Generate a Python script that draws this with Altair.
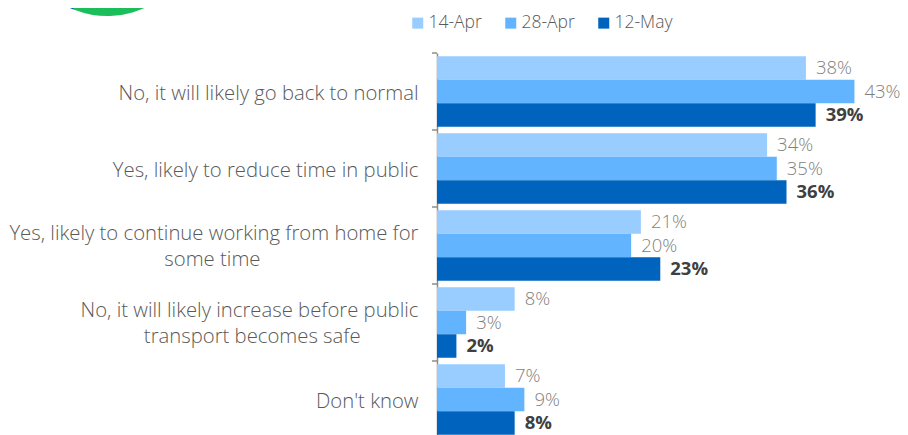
import json
import altair as alt
import pandas as pd

# ---- data -------------------------------------------------------------
categories = [
    "No, it will likely go back to normal",
    "Yes, likely to reduce time in public",
    "Yes, likely to continue working from home for some time",
    "No, it will likely increase before public transport becomes safe",
    "Don't know",
]
# wrapped axis-label lines (the short second lines are padded so that they
# sit centred under the first line, as in the reference)
NB = "\u00a0"
END = "\u200b"
label_lines = [
    ["No, it will likely go back to normal"],
    ["Yes, likely to reduce time in public"],
    ["Yes, likely to continue working from home for", "some time" + NB * 30 + END],
    ["No, it will likely increase before public", "transport becomes safe" + NB * 11 + END],
    ["Don't know"],
]
series = ["14-Apr", "28-Apr", "12-May"]
apr14 = [38, 34, 21, 8, 7]
apr28 = [43, 35, 20, 3, 9]
may12 = [39, 36, 23, 2, 8]
bar_values = [apr14, apr28, may12]

pie_labels = ["Yes", "No"]
pie_values = [56, 44]

# ---- styling ------------------------------------------------------------
bar_colors = ["#99CCFF", "#63B4FF", "#0064BE"]
pie_colors = ["#1BBE5A", "#0064BE"]
FONT = "Open Sans"

rows = []
for s, vals in zip(series, bar_values):
    for c, v in zip(categories, vals):
        rows.append({"Category": c, "Series": s, "Value": v, "Label": f"{v}%"})
df = pd.DataFrame(rows)

expr = "".join(
    f"datum.label === {json.dumps(c, ensure_ascii=False)} ? {json.dumps(l, ensure_ascii=False)} : "
    for c, l in zip(categories, label_lines)
) + "datum.label"

y_axis = alt.Axis(
    title=None, ticks=False, domain=True, domainColor="#8c8c8c", domainWidth=1.5,
    labelExpr=expr, labelFont=FONT, labelFontSize=20.3, labelFontWeight=300,
    labelColor="#595959", labelPadding=19, labelLimit=600, labelLineHeight=26,
    labelAlign="right",
    labelOffset={"condition": {"test": "length(datum.value) > 40", "value": -12},
                 "value": 2},
)
y_scale = alt.Scale(paddingInner=0, paddingOuter=0)


def make_y(**kw):
    return alt.Y("Category:N", sort=categories, scale=y_scale, axis=y_axis, **kw)


x_enc = alt.X("Value:Q", scale=alt.Scale(domain=[0, 48], range=[0, 466]), axis=None)
yoff = alt.YOffset("Series:N", sort=series,
                   scale=alt.Scale(paddingInner=0, paddingOuter=0.138))

bars = alt.Chart(df).mark_bar().encode(
    x=x_enc,
    y=make_y(),
    yOffset=yoff,
    color=alt.Color(
        "Series:N", sort=series,
        scale=alt.Scale(domain=series, range=bar_colors),
        legend=alt.Legend(
            title=None, orient="none", legendX=-28, legendY=-39,
            direction="horizontal", symbolType="square", symbolSize=121,
            symbolStrokeWidth=0, labelFont=FONT, labelFontSize=17.5,
            labelFontWeight=300, labelColor="#595959", columnPadding=20,
            labelOffset=2, padding=0,
        ),
    ),
)

tick_df = pd.DataFrame({"Category": categories})
ticks = alt.Chart(tick_df).mark_rule(color="#8c8c8c", strokeWidth=1.5).encode(
    y=make_y(bandPosition=0), x=alt.value(-5), x2=alt.value(0)
)

text_base = alt.Chart(df).encode(
    x=x_enc, y=make_y(), yOffset=yoff, text="Label:N"
)
normal = text_base.transform_filter("datum.Series != '12-May'").mark_text(
    align="left", baseline="middle", dx=10, font=FONT, fontSize=18.5,
    fontWeight=300, color="#7f7f7f"
)
bold = text_base.transform_filter("datum.Series == '12-May'").mark_text(
    align="left", baseline="middle", dx=10, font=FONT, fontSize=18.5,
    fontWeight="bold", color="#404040"
)

pie_df = pd.DataFrame({"Answer": pie_labels, "Share": pie_values,
                       "Order": list(range(len(pie_labels)))})
pie = alt.Chart(pie_df).mark_arc(radius=91).encode(
    theta=alt.Theta("Share:Q", stack=True),
    color=alt.Color("Answer:N", scale=alt.Scale(domain=pie_labels, range=pie_colors),
                    legend=None),
    order=alt.Order("Order:Q"),
    x=alt.value(-330), y=alt.value(-128),
)

chart = (
    alt.layer(pie, bars, ticks, normal, bold)
    .resolve_scale(color="independent")
    .properties(
        width=463, height=385,
        padding={"left": 429, "top": 45, "right": 0, "bottom": 0},
        autosize=alt.AutoSizeParams(type="none"),
    )
    .configure(font=FONT)
    .configure_view(stroke=None)
)

chart.save("out.html", embed_options={"renderer": "svg", "actions": False})
